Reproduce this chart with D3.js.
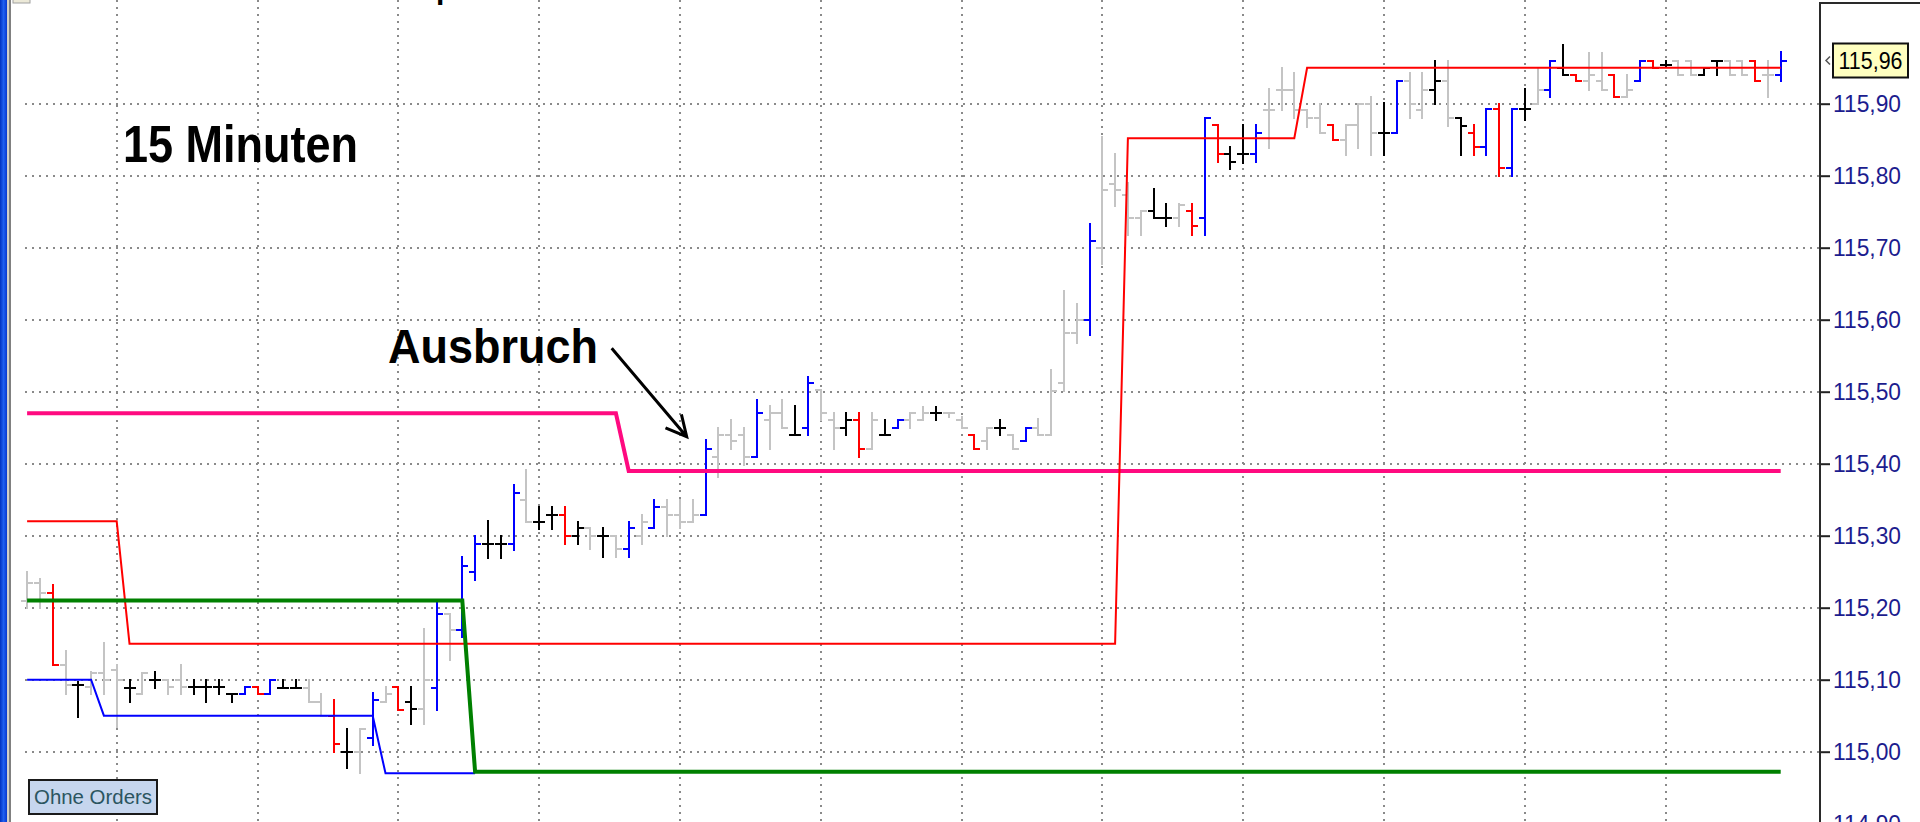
<!DOCTYPE html>
<html>
<head>
<meta charset="utf-8">
<script src="https://cdnjs.cloudflare.com/ajax/libs/d3/7.8.5/d3.min.js"></script>
<style>
  html, body { margin: 0; padding: 0; background: #fff; overflow: hidden; }
  svg { display: block; }
</style>
</head>
<body>
<div id="chart"></div>
<script>
'use strict';

// 15-minute OHLC bars, index 0..137
var barOpen = [
  115.21,115.235,115.22,115.12,115.093,115.09,115.11,115.113,115.089,115.08,
  115.10,115.10,115.10,115.09,115.09,115.09,115.08,115.08,115.09,115.08,
  115.089,115.089,115.089,115.069,115.05,115.00,115.00,115.019,115.069,115.09,
  115.069,115.059,115.089,115.191,115.169,115.249,115.289,115.289,115.289,115.35,
  115.319,115.329,115.329,115.299,115.31,115.299,115.299,115.281,115.299,115.31,
  115.34,115.329,115.319,115.329,115.41,115.44,115.44,115.41,115.461,115.471,
  115.44,115.449,115.502,115.461,115.449,115.461,115.421,115.44,115.449,115.461,
  115.461,115.471,115.471,115.461,115.44,115.431,115.449,115.44,115.431,115.449,
  115.44,115.512,115.581,115.60,115.70,115.789,115.773,115.741,115.751,115.741,
  115.741,115.751,115.741,115.87,115.83,115.83,115.83,115.891,115.919,115.919,
  115.891,115.88,115.87,115.85,115.87,115.90,115.86,115.86,115.932,115.891,
  115.919,115.932,115.88,115.86,115.84,115.892,115.811,115.892,115.90,115.919,
  115.949,115.94,115.931,115.931,115.94,115.909,115.931,115.959,115.954,115.959,
  115.959,115.94,115.959,115.959,115.959,115.959,115.94,115.94
];
var barHigh = [
  115.25,115.24,115.232,115.14,115.097,115.111,115.151,115.12,115.10,115.11,
  115.111,115.10,115.12,115.10,115.10,115.10,115.08,115.09,115.09,115.10,
  115.10,115.10,115.10,115.08,115.072,115.032,115.031,115.081,115.09,115.09,
  115.09,115.17,115.207,115.191,115.271,115.299,115.321,115.299,115.37,115.391,
  115.34,115.34,115.34,115.319,115.31,115.31,115.299,115.319,115.329,115.35,
  115.35,115.35,115.35,115.433,115.449,115.461,115.449,115.489,115.48,115.488,
  115.48,115.521,115.502,115.471,115.471,115.471,115.471,115.461,115.461,115.471,
  115.479,115.479,115.471,115.465,115.44,115.449,115.461,115.44,115.449,115.462,
  115.53,115.64,115.622,115.733,115.854,115.83,115.79,115.751,115.781,115.761,
  115.761,115.761,115.88,115.87,115.84,115.87,115.87,115.92,115.949,115.942,
  115.891,115.90,115.87,115.87,115.90,115.91,115.901,115.932,115.942,115.942,
  115.959,115.959,115.88,115.87,115.892,115.90,115.892,115.92,115.949,115.959,
  115.982,115.94,115.971,115.971,115.94,115.94,115.959,115.959,115.959,115.959,
  115.959,115.949,115.959,115.959,115.959,115.959,115.959,115.972
];
var barLow = [
  115.20,115.20,115.12,115.08,115.048,115.08,115.08,115.035,115.069,115.08,
  115.088,115.08,115.08,115.08,115.069,115.08,115.069,115.08,115.08,115.08,
  115.089,115.089,115.069,115.05,115.00,114.977,114.97,115.009,115.069,115.058,
  115.039,115.039,115.058,115.128,115.16,115.238,115.269,115.269,115.28,115.319,
  115.309,115.309,115.289,115.289,115.282,115.271,115.271,115.271,115.289,115.31,
  115.299,115.31,115.319,115.329,115.382,115.421,115.398,115.409,115.421,115.449,
  115.44,115.44,115.461,115.421,115.44,115.409,115.421,115.44,115.449,115.449,
  115.461,115.461,115.465,115.449,115.421,115.421,115.44,115.421,115.431,115.44,
  115.44,115.501,115.567,115.579,115.678,115.758,115.718,115.718,115.741,115.73,
  115.73,115.718,115.718,115.819,115.81,115.817,115.819,115.838,115.891,115.88,
  115.868,115.859,115.85,115.829,115.838,115.829,115.829,115.86,115.88,115.88,
  115.90,115.869,115.829,115.829,115.829,115.799,115.799,115.878,115.90,115.909,
  115.94,115.931,115.919,115.919,115.909,115.909,115.931,115.949,115.951,115.94,
  115.94,115.94,115.94,115.94,115.94,115.931,115.909,115.931
];
var barClose = [
  115.235,115.22,115.12,115.093,115.093,115.11,115.10,115.10,115.089,115.11,
  115.10,115.09,115.09,115.09,115.09,115.09,115.08,115.09,115.08,115.10,
  115.089,115.089,115.069,115.05,115.011,115.00,115.031,115.072,115.08,115.058,
  115.059,115.10,115.191,115.169,115.258,115.289,115.289,115.289,115.36,115.319,
  115.319,115.329,115.299,115.31,115.299,115.299,115.282,115.31,115.319,115.34,
  115.329,115.319,115.329,115.421,115.44,115.431,115.41,115.471,115.471,115.449,
  115.44,115.512,115.471,115.449,115.461,115.421,115.461,115.44,115.461,115.471,
  115.471,115.471,115.471,115.449,115.421,115.449,115.449,115.421,115.449,115.44,
  115.501,115.581,115.60,115.71,115.78,115.78,115.741,115.751,115.741,115.741,
  115.759,115.73,115.88,115.83,115.819,115.83,115.86,115.891,115.919,115.891,
  115.88,115.86,115.85,115.87,115.90,115.86,115.86,115.932,115.90,115.919,
  115.932,115.88,115.869,115.84,115.892,115.811,115.892,115.892,115.919,115.959,
  115.94,115.931,115.94,115.919,115.909,115.919,115.959,115.949,115.954,115.94,
  115.94,115.949,115.959,115.94,115.94,115.931,115.94,115.959
];
// g = neutral (grey), k = black, b = blue, r = red
var barColor = [
  'ggrgkgggkg', 'kggkkkkbrb', 'kkggrkgbgr', 'kgbgbbkkbg', 'kkrkgkgbgb',
  'gggbgggbgg', 'kbggkrgkbg', 'gkggrgkgbg', 'gggbggggkk', 'grbrkkbggg',
  'ggrgggkbgg', 'kgkrbrbkgb', 'krggrgbrkg', 'gkkggrgb'
].join('').split('');

// indicator lines: bar index / level pairs
var magentaIdx = [0, 46, 47, 137];
var magentaVal = [115.47, 115.47, 115.39, 115.39];
var redIdx = [0, 7, 8, 85, 86, 99, 100, 137];
var redVal = [115.32, 115.32, 115.15, 115.15, 115.852, 115.852, 115.95, 115.95];
var blueIdx = [0, 5, 6, 27, 28, 35];
var blueVal = [115.10, 115.10, 115.05, 115.05, 114.97, 114.97];
var greenIdx = [0, 34, 35, 137];
var greenVal = [115.21, 115.21, 114.972, 114.972];

var priceTicks = [114.9, 115.0, 115.1, 115.2, 115.3, 115.4, 115.5, 115.6, 115.7, 115.8, 115.9];
var timeGridIdx = [7, 18, 29, 40, 51, 62, 73, 84, 95, 106, 117, 128];
var lastPrice = 115.96;

var width = 1920,
    height = 822,
    axisX = 1820;

var colorOf = { g: '#c4c4c4', k: '#000000', b: '#0000ff', r: '#ff0000' };

var de = d3.formatLocale({ decimal: ',', thousands: '.', grouping: [3], currency: ['', ' €'] });
var fmt = de.format('.2f');

var svg = d3.select('#chart')
    .append('svg')
    .attr('width', width)
    .attr('height', height)
    .style('font-family', '"Liberation Sans", Arial, sans-serif');

svg.append('rect').attr('width', width).attr('height', height).attr('fill', '#ffffff');

var x = d3.scaleLinear().domain([0, barOpen.length - 1]).range([27.1, 1780.7]);
var y = d3.scaleLinear().domain([115.0, 115.9]).range([751.7, 103.7]);
var sx = function(i) { return Math.round(x(i)); };
var sy = function(v) { return Math.round(y(v)); };

// dotted grid
var grid = svg.append('g').attr('stroke', '#8a8a8a').attr('stroke-width', 2).attr('stroke-dasharray', '2,5');
grid.selectAll('.hg').data(priceTicks).join('line')
    .attr('class', 'hg')
    .attr('x1', 25).attr('x2', axisX)
    .attr('y1', function(d) { return sy(d); })
    .attr('y2', function(d) { return sy(d); });
grid.selectAll('.vg').data(timeGridIdx).join('line')
    .attr('class', 'vg')
    .attr('x1', function(d) { return sx(d); })
    .attr('x2', function(d) { return sx(d); })
    .attr('y1', 0).attr('y2', height);

// OHLC bars
var tick = 6;
svg.append('g')
    .attr('fill', 'none')
    .attr('stroke-width', 2)
    .selectAll('path')
    .data(d3.range(barOpen.length))
    .join('path')
    .attr('stroke', function(i) { return colorOf[barColor[i]]; })
    .attr('d', function(i) {
        var cx = sx(i);
        return 'M' + cx + ',' + (sy(barLow[i]) + 1) + 'V' + (sy(barHigh[i]) - 1) +
            'M' + (cx - tick) + ',' + sy(barOpen[i]) + 'H' + cx +
            'M' + cx + ',' + sy(barClose[i]) + 'H' + (cx + tick);
    });

// indicator lines
var levelLine = d3.line()
    .x(function(d) { return x(d[0]); })
    .y(function(d) { return y(d[1]); });

function drawLevel(idx, vals, color, w) {
    svg.append('path')
        .datum(d3.zip(idx, vals))
        .attr('fill', 'none')
        .attr('stroke', color)
        .attr('stroke-width', w)
        .attr('d', levelLine);
}
drawLevel(blueIdx, blueVal, '#0000ff', 2);
drawLevel(magentaIdx, magentaVal, '#ff0a80', 4);
drawLevel(redIdx, redVal, '#ff0000', 2);
drawLevel(greenIdx, greenVal, '#008000', 4);

// price axis on the right
var axis = svg.append('g')
    .attr('transform', 'translate(' + axisX + ',0)')
    .call(d3.axisRight(y).tickValues(priceTicks).tickSize(10).tickPadding(3).tickFormat(fmt));
axis.select('.domain').remove();
axis.selectAll('.tick line').attr('stroke', '#222').attr('stroke-width', 2);
axis.selectAll('.tick text')
    .attr('fill', '#1c1c8e')
    .style('font-size', '23px')
    .attr('textLength', 68)
    .attr('lengthAdjust', 'spacingAndGlyphs');

svg.append('path')
    .attr('d', 'M' + axisX + ',' + height + 'V3H' + width)
    .attr('fill', 'none')
    .attr('stroke', '#2a2a2a')
    .attr('stroke-width', 2);

// last price marker
var py = y(lastPrice);
svg.append('path')
    .attr('d', 'M1830,' + (py - 4) + 'L1826,' + py + 'L1830,' + (py + 4))
    .attr('fill', 'none').attr('stroke', '#555').attr('stroke-width', 1.5);
svg.append('rect')
    .attr('x', 1833).attr('y', py - 17).attr('width', 75).attr('height', 34)
    .attr('fill', '#ffffc0').attr('stroke', '#111').attr('stroke-width', 2);
svg.append('text')
    .attr('x', 1870.5).attr('y', py).attr('dy', '0.35em')
    .attr('text-anchor', 'middle')
    .style('font-size', '23px')
    .attr('textLength', 64).attr('lengthAdjust', 'spacingAndGlyphs')
    .text(fmt(lastPrice));

// annotations
svg.append('text')
    .attr('x', 123).attr('y', 162)
    .style('font-size', '52px').style('font-weight', 'bold')
    .attr('textLength', 235).attr('lengthAdjust', 'spacingAndGlyphs')
    .text('15 Minuten');

svg.append('text')
    .attr('x', 388).attr('y', 363)
    .style('font-size', '49px').style('font-weight', 'bold')
    .attr('textLength', 210).attr('lengthAdjust', 'spacingAndGlyphs')
    .text('Ausbruch');

var tail = [611.7, 348.3], tip = [686.7, 436.7];
var ang = Math.atan2(tail[1] - tip[1], tail[0] - tip[0]);
var head = 23, spread = 27 * Math.PI / 180;
svg.append('path')
    .attr('d', 'M' + tail + 'L' + tip +
        'M' + [tip[0] + head * Math.cos(ang - spread), tip[1] + head * Math.sin(ang - spread)] +
        'L' + tip +
        'L' + [tip[0] + head * Math.cos(ang + spread), tip[1] + head * Math.sin(ang + spread)])
    .attr('fill', 'none').attr('stroke', '#000').attr('stroke-width', 3);

// title above the visible area, only its descender shows
svg.append('text')
    .attr('x', 436).attr('y', -1)
    .style('font-size', '30px').style('font-weight', 'bold')
    .text('p');

// "Ohne Orders" button
svg.append('rect')
    .attr('x', 29).attr('y', 780).attr('width', 128).attr('height', 34)
    .attr('fill', '#c6d6ee').attr('stroke', '#1a1a1a').attr('stroke-width', 2);
svg.append('text')
    .attr('x', 93).attr('y', 804)
    .attr('text-anchor', 'middle')
    .attr('fill', '#2b5560')
    .style('font-size', '20px')
    .attr('textLength', 118).attr('lengthAdjust', 'spacingAndGlyphs')
    .text('Ohne Orders');

// window frame on the left
var grad = svg.append('defs').append('linearGradient').attr('id', 'frame');
grad.append('stop').attr('offset', '0%').attr('stop-color', '#0030c0');
grad.append('stop').attr('offset', '50%').attr('stop-color', '#2060f0');
grad.append('stop').attr('offset', '100%').attr('stop-color', '#0838d0');
svg.append('rect').attr('x', 0).attr('y', 0).attr('width', 7).attr('height', height).attr('fill', 'url(#frame)');
svg.append('rect').attr('x', 7).attr('y', 0).attr('width', 2).attr('height', height).attr('fill', '#d4d0c8');
svg.append('rect').attr('x', 9).attr('y', 0).attr('width', 2).attr('height', height).attr('fill', '#808080');
svg.append('rect').attr('x', 13).attr('y', -2).attr('width', 17).attr('height', 5)
    .attr('fill', '#ece9d8').attr('stroke', '#a0a0a0');
</script>
</body>
</html>
